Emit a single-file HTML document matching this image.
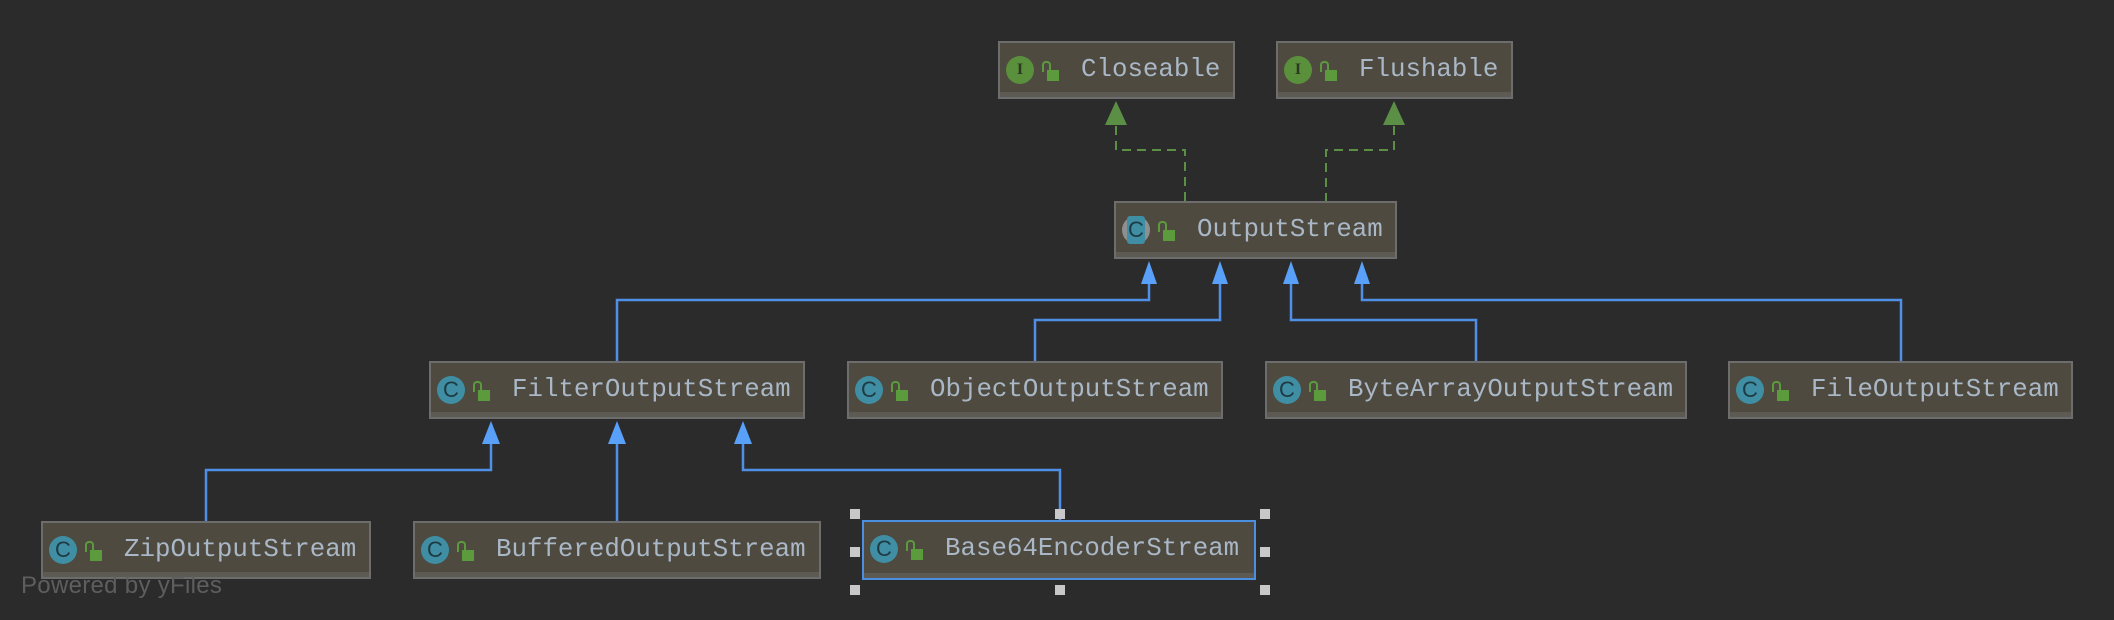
<!DOCTYPE html>
<html><head><meta charset="utf-8"><style>
html,body{margin:0;padding:0;background:#2b2b2b;}
body{width:2114px;height:620px;position:relative;overflow:hidden;font-family:"Liberation Mono",monospace;}
.n{position:absolute;box-sizing:border-box;height:58px;background:#4e4a3f;border:2px solid #6d6d6d;box-shadow:inset 0 -5px 0 #5d5a53;}
.n.sel{border-color:#4a8fe0;}
.ic{position:absolute;left:6px;top:13px;width:28px;height:28px;border-radius:50%;background:#3f8ea3;color:#1e3a44;font:22px "Liberation Sans",sans-serif;text-align:center;line-height:28px;}
.ic.i{background:#5a8f3c;color:#2a3a20;font:bold 16px "Liberation Serif",serif;line-height:28px;}
.ic.a{background:#8d8f90;}
.ic.a span{position:absolute;left:5px;top:0;width:18px;height:28px;background:#3f8ea3;border-radius:3px;line-height:28px;}
.lk{position:absolute;left:47px;top:27px;width:12px;height:11px;background:#5c9a3e;}
.lk:before{content:"";position:absolute;left:-5px;top:-9px;width:5px;height:9px;border:2px solid #5c9a3e;border-bottom:none;border-radius:4px 4px 0 0;}
.t{position:absolute;left:81px;top:1px;line-height:52px;font-size:25.8px;color:#a9b7c6;white-space:nowrap;}
.h{position:absolute;width:10px;height:10px;background:#c8c8c8;}
</style></head><body>
<svg width="2114" height="620" style="position:absolute;left:0;top:0">
<g fill="none" stroke="#5b8f45" stroke-width="2" stroke-dasharray="9,6">
<polyline points="1116,126 1116,150 1185,150 1185,201"/>
<polyline points="1394,126 1394,150 1326,150 1326,201"/>
</g>
<polygon points="1116,101 1105,125 1127,125" fill="#5b8f45"/>
<polygon points="1394,101 1383,125 1405,125" fill="#5b8f45"/>
<g fill="none" stroke="#4f8fe6" stroke-width="2.5">
<polyline points="1149,284 1149,300 617,300 617,361"/>
<polyline points="1220,284 1220,320 1035,320 1035,361"/>
<polyline points="1291,284 1291,320 1476,320 1476,361"/>
<polyline points="1362,284 1362,300 1901,300 1901,361"/>
<polyline points="491,444 491,470 206,470 206,521"/>
<polyline points="617,444 617,521"/>
<polyline points="743,444 743,470 1060,470 1060,521"/>
</g>
<g fill="#58a0f8">
<polygon points="1149,261 1141,284 1157,284"/>
<polygon points="1220,261 1212,284 1228,284"/>
<polygon points="1291,261 1283,284 1299,284"/>
<polygon points="1362,261 1354,284 1370,284"/>
<polygon points="491,421 482,444 500,444"/>
<polygon points="617,421 608,444 626,444"/>
<polygon points="743,421 734,444 752,444"/>
</g>
</svg>

<div class="n" style="left:998px;top:41px;width:237px"><div class="ic i">I</div><div class="lk"></div><div class="t">Closeable</div></div>
<div class="n" style="left:1276px;top:41px;width:237px"><div class="ic i">I</div><div class="lk"></div><div class="t">Flushable</div></div>
<div class="n" style="left:1114px;top:201px;width:283px"><div class="ic a"><span>C</span></div><div class="lk"></div><div class="t">OutputStream</div></div>

<div class="n" style="left:429px;top:361px;width:376px"><div class="ic">C</div><div class="lk"></div><div class="t">FilterOutputStream</div></div>
<div class="n" style="left:847px;top:361px;width:376px"><div class="ic">C</div><div class="lk"></div><div class="t">ObjectOutputStream</div></div>
<div class="n" style="left:1265px;top:361px;width:422px"><div class="ic">C</div><div class="lk"></div><div class="t">ByteArrayOutputStream</div></div>
<div class="n" style="left:1728px;top:361px;width:345px"><div class="ic">C</div><div class="lk"></div><div class="t">FileOutputStream</div></div>

<div class="n" style="left:41px;top:521px;width:330px"><div class="ic">C</div><div class="lk"></div><div class="t">ZipOutputStream</div></div>
<div class="n" style="left:413px;top:521px;width:408px"><div class="ic">C</div><div class="lk"></div><div class="t">BufferedOutputStream</div></div>
<div class="n sel" style="left:862px;top:520px;width:394px;height:60px"><div class="ic">C</div><div class="lk"></div><div class="t">Base64EncoderStream</div></div>

<div class="h" style="left:850px;top:509px"></div>
<div class="h" style="left:1055px;top:509px"></div>
<div class="h" style="left:1260px;top:509px"></div>
<div class="h" style="left:850px;top:547px"></div>
<div class="h" style="left:1260px;top:547px"></div>
<div class="h" style="left:850px;top:585px"></div>
<div class="h" style="left:1055px;top:585px"></div>
<div class="h" style="left:1260px;top:585px"></div>

<div style="position:absolute;left:21px;top:572px;font:24px 'Liberation Sans',sans-serif;letter-spacing:0.3px;color:#5e5e5e;white-space:nowrap">Powered by yFiles</div>
</body></html>
